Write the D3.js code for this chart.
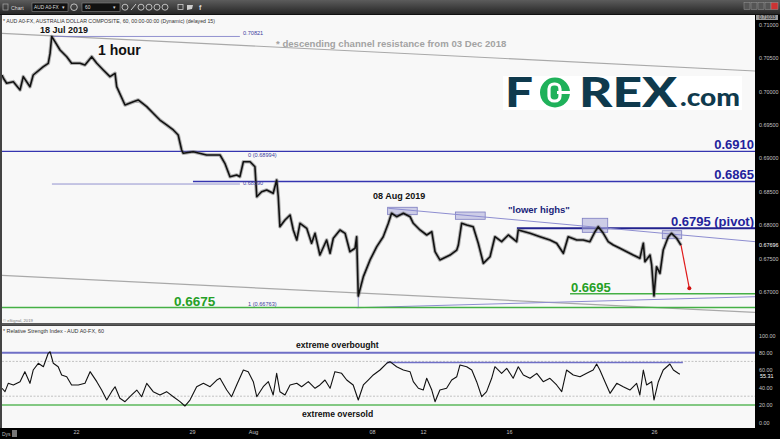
<!DOCTYPE html>
<html><head><meta charset="utf-8">
<script src="https://cdn.jsdelivr.net/npm/d3@7"></script>
<style>html,body{margin:0;padding:0;background:#222;overflow:hidden}svg{display:block}</style>
</head><body><svg id="c" width="780" height="439"></svg>
<script>
// ---------- DATA (trading days from 22 Jul 2019 00:00) ----------
const priceT = [-3.20,-3.14,-3.00,-2.71,-2.42,-2.28,-1.99,-1.85,-1.41,-1.20,
 -1.12,-1.05,-0.91,-0.69,-0.40,-0.19,0.17,0.39,0.68,0.90,
 1.18,1.47,1.69,1.76,2.12,2.48,2.69,3.06,3.34,3.63,
 3.92,4.21,4.42,4.57,4.64,5.07,5.65,6.23,6.44,6.66,
 6.95,7.09,7.24,7.53,7.74,7.82,8.03,8.25,8.53,8.68,
 8.75,8.82,9.04,9.26,9.40,9.55,9.69,9.98,10.19,10.34,
 10.55,10.84,10.99,11.13,11.42,11.64,11.85,12.07,12.14,12.21,
 12.43,12.72,13.01,13.29,13.51,13.65,13.87,14.16,14.45,14.59,
 14.88,15.17,15.39,15.53,15.74,16.18,16.47,16.54,16.68,16.90,
 17.18,17.40,17.62,17.91,18.12,18.41,18.70,19.06,19.13,19.64,
 20.07,20.50,20.79,21.08,21.29,21.66,21.94,22.23,22.45,22.59,
 22.81,23.02,23.24,23.53,23.82,24.10,24.39,24.54,24.61,24.83,
 24.90,25.00,25.11,25.26,25.40,25.62,25.76,25.98,26.17];
const priceV = [0.70244,0.70195,0.70120,0.70144,0.70020,0.70219,0.70069,0.70244,0.70368,0.70419,
 0.70569,0.70821,0.70743,0.70618,0.70518,0.70419,0.70419,0.70394,0.70518,0.70419,
 0.70319,0.70219,0.70269,0.70069,0.69795,0.69844,0.69870,0.69770,0.69671,0.69570,
 0.69496,0.69421,0.69346,0.69121,0.69072,0.69096,0.69046,0.69046,0.68922,0.68722,
 0.68747,0.68722,0.68946,0.68946,0.68871,0.68422,0.68497,0.68522,0.68473,0.68672,
 0.68422,0.67973,0.68073,0.68148,0.67924,0.67774,0.68024,0.67949,0.67725,0.67874,
 0.67549,0.67774,0.67575,0.67800,0.67924,0.67874,0.67599,0.67650,0.67823,0.66936,
 0.67225,0.67475,0.67674,0.67823,0.68024,0.68174,0.68123,0.68174,0.68123,0.68024,
 0.67924,0.67849,0.67898,0.67599,0.67475,0.67549,0.67624,0.67699,0.68024,0.67999,
 0.67973,0.67725,0.67425,0.67524,0.67823,0.67749,0.67849,0.67749,0.67924,0.67874,
 0.67823,0.67774,0.67725,0.67575,0.67823,0.67774,0.67774,0.67749,0.67898,0.67973,
 0.67874,0.67749,0.67699,0.67650,0.67599,0.67549,0.67500,0.67725,0.67449,0.67549,
 0.67400,0.66936,0.67374,0.67275,0.67624,0.67823,0.67874,0.67800,0.67696];
const rsiT = [-3.20,-3.07,-2.93,-2.71,-2.42,-2.21,-1.99,-1.85,-1.63,-1.41,
 -1.20,-1.12,-0.98,-0.77,-0.62,-0.40,-0.19,0.10,0.39,0.61,
 0.90,1.11,1.33,1.54,1.69,1.90,2.12,2.41,2.63,2.84,
 3.06,3.34,3.63,3.92,4.21,4.50,4.71,4.93,5.22,5.51,
 5.80,6.09,6.23,6.52,6.73,6.95,7.24,7.45,7.67,7.82,
 8.10,8.32,8.53,8.68,8.82,9.04,9.26,9.55,9.76,10.05,
 10.34,10.55,10.77,10.99,11.20,11.49,11.71,11.99,12.21,12.43,
 12.64,12.86,13.15,13.44,13.58,13.87,14.16,14.45,14.59,14.81,
 15.02,15.17,15.39,15.53,15.74,16.03,16.25,16.47,16.61,16.90,
 17.12,17.33,17.55,17.76,17.98,18.12,18.41,18.63,18.91,19.13,
 19.35,19.64,19.93,20.21,20.50,20.79,21.01,21.22,21.51,21.80,
 22.09,22.37,22.52,22.66,22.88,23.10,23.39,23.67,23.96,24.25,
 24.39,24.54,24.68,24.90,25.00,25.19,25.40,25.69,25.84,26.05,26.12];
const rsiV = [39.1,35.2,44.8,42.9,46.7,58.2,44.8,60.1,67.8,63.9,
 79.3,81.1,67.8,63.9,54.4,52.4,42.9,42.9,44.8,58.2,
 46.7,37.1,25.6,35.2,40.9,27.6,23.7,31.4,37.1,29.4,
 44.8,35.2,31.4,35.2,29.4,23.7,18.7,25.6,40.9,44.8,
 40.9,48.6,50.6,37.1,29.4,42.9,60.1,58.2,46.7,29.4,
 40.9,46.7,31.4,56.3,35.2,31.4,42.9,44.8,40.9,46.7,
 39.1,42.9,48.6,39.1,58.2,56.3,48.6,42.9,25.6,42.9,
 48.6,54.4,60.1,67.8,69.7,63.9,60.1,58.2,46.7,39.1,
 37.1,50.6,37.1,23.7,37.1,39.1,48.6,52.4,65.9,63.9,
 60.1,46.7,29.4,35.2,50.6,63.9,56.3,62.1,50.6,63.9,
 54.4,50.6,56.3,46.7,50.6,42.9,35.2,60.1,54.4,52.4,
 56.3,60.1,67.0,60.1,46.7,33.3,44.8,40.9,37.1,44.8,
 31.4,60.1,42.9,46.7,25.6,46.7,60.1,67.0,60.1,56.3,55.31];

const priceTicks = [0.71,0.705,0.70,0.695,0.69,0.685,0.68,0.675,0.67];
const rsiTicks = [100,80,60,40,20,0];
const dayTicks = [0,5.02,7.66,12.80,15.01,18.73,25.00];
const dayLabels = ["22","29","Aug","08","12","16","26"];

const levelValues = [0.6910,0.6865,0.6795];
const levelLabels = ["0.6910","0.6865","0.6795 (pivot)"];
const levelStart = [-3.2,5.06,19.07];
const supportValues = [0.6697,0.66763];
const supportLabels = ["0.6695","0.6675"];
const supportStart = [21.37,-3.2];
// boxes on swing highs: [day0, day1, priceHigh, priceLow]
const boxD0 = [13.48,16.41,21.90,25.36];
const boxD1 = [14.76,17.70,23.00,26.20];
const boxP0 = [0.68264,0.68193,0.68099,0.67913];
const boxP1 = [0.68153,0.68084,0.67889,0.67793];
// trendlines [d0,p0,d1,p1]
const lowerHighs = [13.51,0.68249,29.37,0.67749];
const chanTop = [-3.29,0.70868,29.37,0.70304];
const chanBot = [-3.29,0.67246,29.37,0.66689];
const riseLine = [12.14,0.66760,29.37,0.66925];
const fibHigh = 0.70821, fibMid = 0.68612, fib0 = 0.68994, fib1 = 0.66763;
const fibSpan = [-1.04,7.09];
const arrow = [26.17,0.67696,26.53,0.67051];
const rsiRef = [80,70,30,20];
const rsiRes = [13.44,26.25,68.7];
const lastPrice = 0.67696, lastRsi = 55.31;

// ---------- LAYOUT ----------
const svg = d3.select("#c");
const FF = "Liberation Sans, Arial, sans-serif";
const L=2, R=755, mT=15, mB=324, rT=326, rB=428;
const x = d3.scaleLinear().domain([-3.2, 29.37]).range([L, R]);
const yP = d3.scaleLinear().domain([0.67, 0.71]).range([291.7, 24.5]);
const yR = d3.scaleLinear().domain([0, 100]).range([422.3, 335.3]);

const defs = svg.append("defs");
const g1 = defs.append("linearGradient").attr("id","tb").attr("x1",0).attr("x2",0).attr("y1",0).attr("y2",1);
g1.append("stop").attr("offset","0").attr("stop-color","#5c5c5c");
g1.append("stop").attr("offset","1").attr("stop-color","#262626");
defs.append("clipPath").attr("id","cm").append("rect").attr("x",L).attr("y",mT).attr("width",R-L).attr("height",mB-mT);
defs.append("clipPath").attr("id","cr").append("rect").attr("x",L).attr("y",rT).attr("width",R-L).attr("height",rB-rT);

svg.append("rect").attr("width",780).attr("height",439).attr("fill","#2b2b2b");
// toolbar
svg.append("rect").attr("width",780).attr("height",14).attr("fill","url(#tb)");
svg.append("rect").attr("y",14).attr("width",780).attr("height",1).attr("fill","#111");
const tb = svg.append("g").attr("font-family",FF).attr("font-size",5.2).attr("fill","#ddd");
tb.append("rect").attr("x",3).attr("y",4).attr("width",5).attr("height",6).attr("fill","none").attr("stroke","#aaa").attr("stroke-width",0.7);
tb.append("text").attr("x",11).attr("y",9.5).text("Chart");
tb.append("rect").attr("x",32).attr("y",3).attr("width",36).attr("height",8.5).attr("fill","#111").attr("stroke","#888").attr("stroke-width",0.6);
tb.append("text").attr("x",34).attr("y",9.3).attr("font-size",4.8).text("AUD A0-FX");
tb.append("text").attr("x",62).attr("y",9.3).attr("font-size",4.8).text("▾");
tb.append("circle").attr("cx",74).attr("cy",7.2).attr("r",3.3).attr("fill","none").attr("stroke","#ccc").attr("stroke-width",0.9);
tb.append("rect").attr("x",82).attr("y",3).attr("width",38).attr("height",8.5).attr("fill","#111").attr("stroke","#888").attr("stroke-width",0.6);
tb.append("text").attr("x",85).attr("y",9.3).attr("font-size",4.8).text("60");
tb.append("text").attr("x",113).attr("y",9.3).attr("font-size",4.8).text("▾");
[125,141,149,157,165].forEach(cx=>tb.append("circle").attr("cx",cx).attr("cy",7.2).attr("r",3).attr("fill","none").attr("stroke","#ccc").attr("stroke-width",0.9));
tb.append("line").attr("x1",131).attr("y1",10).attr("x2",136).attr("y2",4).attr("stroke","#ccc").attr("stroke-width",1);
tb.append("rect").attr("x",178).attr("y",4.5).attr("width",5).attr("height",5).attr("fill","none").attr("stroke","#ccc").attr("stroke-width",0.8);
tb.append("path").attr("d","M187,5 l6,0 l-1,4 l-5,1 z").attr("fill","#ccc");
tb.append("text").attr("x",199).attr("y",10).attr("font-size",7).attr("font-weight","bold").text("f");
[744,751,758,765].forEach(bx=>tb.append("rect").attr("x",bx).attr("y",2.5).attr("width",6).attr("height",7).attr("fill","#555").attr("stroke","#999").attr("stroke-width",0.5));
tb.append("rect").attr("x",771).attr("y",2.5).attr("width",7).attr("height",7).attr("fill","#c33").attr("stroke","#999").attr("stroke-width",0.5);

// panels
svg.append("rect").attr("x",L).attr("y",mT).attr("width",R-L).attr("height",mB-mT).attr("fill","#f8f8f8");
svg.append("rect").attr("x",0).attr("y",mB-1).attr("width",R).attr("height",2.5).attr("fill","#5a5a5a");
svg.append("rect").attr("x",L).attr("y",rT).attr("width",R-L).attr("height",rB-rT).attr("fill","#f8f8f8");
svg.append("rect").attr("x",R).attr("y",mT).attr("width",780-R).attr("height",439-mT).attr("fill","#000");
svg.append("rect").attr("x",0).attr("y",rB).attr("width",780).attr("height",439-rB).attr("fill","#000");
svg.append("rect").attr("x",0).attr("y",mT).attr("width",L).attr("height",rB-mT).attr("fill","#444");

// ---------- MAIN PANEL ----------
const M = svg.append("g").attr("clip-path","url(#cm)");
const seg = (a,col,w)=>M.append("line").attr("x1",x(a[0])).attr("y1",yP(a[1])).attr("x2",x(a[2])).attr("y2",yP(a[3])).attr("stroke",col).attr("stroke-width",w);
seg(chanTop,"#a9a9a9",1.2);
seg(chanBot,"#a9a9a9",1.2);
seg(riseLine,"#8d8dd0",1);
// fib lines
M.append("line").attr("x1",x(fibSpan[0])).attr("x2",x(fibSpan[1])).attr("y1",yP(fibHigh)).attr("y2",yP(fibHigh)).attr("stroke","#7777c4").attr("stroke-width",0.8);
M.append("line").attr("x1",x(fibSpan[0])).attr("x2",x(fibSpan[1])).attr("y1",yP(fibMid)).attr("y2",yP(fibMid)).attr("stroke","#7777c4").attr("stroke-width",0.8);
M.append("line").attr("x1",x(12.21)).attr("x2",x(12.21)).attr("y1",yP(0.66936)).attr("y2",yP(fib1)).attr("stroke","#8d8dd0").attr("stroke-width",0.8);
// levels
levelValues.forEach((v,i)=>{
  M.append("line").attr("x1",x(levelStart[i])).attr("x2",R).attr("y1",yP(v)).attr("y2",yP(v))
   .attr("stroke",i===2?"#22228e":"#3535b0").attr("stroke-width",i===2?2:1.3);
});
supportValues.forEach((v,i)=>{
  M.append("line").attr("x1",x(supportStart[i])).attr("x2",R).attr("y1",yP(v)).attr("y2",yP(v))
   .attr("stroke","#45b045").attr("stroke-width",1.4);
});
// boxes
boxD0.forEach((d,i)=>{
  M.append("rect").attr("x",x(d)).attr("y",yP(boxP0[i])).attr("width",x(boxD1[i])-x(d)).attr("height",yP(boxP1[i])-yP(boxP0[i]))
   .attr("fill","#a9a9d8").attr("fill-opacity",0.55).attr("stroke","#7c7cc0").attr("stroke-width",0.8);
});
seg(lowerHighs,"#8d8dd0",1);
// price
const pts = priceT.map((t,i)=>[t,priceV[i]]);
const ln = d3.line().x(d=>x(d[0])).y(d=>yP(d[1]));
M.append("path").attr("d",ln(pts)).attr("fill","none").attr("stroke","#666").attr("stroke-width",3.6).attr("stroke-opacity",0.5).attr("stroke-linejoin","round");
M.append("path").attr("d",ln(pts)).attr("fill","none").attr("stroke","#111").attr("stroke-width",1.6).attr("stroke-linejoin","round");
// arrow
M.append("line").attr("x1",x(arrow[0])).attr("y1",yP(arrow[1])).attr("x2",x(arrow[2])).attr("y2",yP(arrow[3])).attr("stroke","#e01b1b").attr("stroke-width",1.2);
M.append("circle").attr("cx",x(arrow[2])).attr("cy",yP(arrow[3])).attr("r",2).attr("fill","#d01010");

// logo
const lg = M.append("g");
lg.append("rect").attr("x",503).attr("y",76).attr("width",239).attr("height",34).attr("fill","#fff");
lg.append("text").attr("x",505).attr("y",107).attr("font-family","Lato, Roboto, sans-serif").attr("font-weight",900).attr("font-size",41).attr("fill","#0f3a4d").attr("textLength",28).attr("lengthAdjust","spacingAndGlyphs").text("F");
lg.append("circle").attr("cx",555).attr("cy",92.5).attr("r",15).attr("fill","#1fb15a");
lg.append("rect").attr("x",549).attr("y",84).attr("width",11).attr("height",17).attr("rx",5).attr("fill","none").attr("stroke","#fff").attr("stroke-width",3.2);
lg.append("line").attr("x1",557).attr("x2",571).attr("y1",92.5).attr("y2",92.5).attr("stroke","#fff").attr("stroke-width",3);
lg.append("text").attr("x",579).attr("y",107).attr("font-family","Lato, Roboto, sans-serif").attr("font-weight",900).attr("font-size",41).attr("fill","#0f3a4d").attr("textLength",98).attr("lengthAdjust","spacingAndGlyphs").text("REX");
lg.append("text").attr("x",680).attr("y",106).attr("font-family","Lato, Roboto, sans-serif").attr("font-weight",900).attr("font-size",24).attr("fill","#0f3a4d").attr("textLength",60).attr("lengthAdjust","spacingAndGlyphs").text(".com");

// texts in main panel
const T = svg.append("g").attr("font-family",FF);
T.append("text").attr("x",3).attr("y",22.5).attr("font-size",5.4).attr("fill","#333").attr("textLength",212).attr("lengthAdjust","spacingAndGlyphs")
 .text("* AUD A0-FX, AUSTRALIA DOLLAR COMPOSITE, 60, 00:00-00:00 (Dynamic) (delayed 15)");
T.append("text").attr("x",40).attr("y",32.5).attr("font-size",9).attr("font-weight","bold").attr("fill","#111").text("18 Jul 2019");
T.append("text").attr("x",98).attr("y",54.5).attr("font-size",14).attr("font-weight","bold").attr("fill","#111").text("1 hour");
T.append("text").attr("x",276).attr("y",46.5).attr("font-size",9.6).attr("font-weight","bold").attr("fill","#a3a3a3").text("* descending channel resistance from 03 Dec 2018");
T.append("text").attr("x",243).attr("y",yP(fibHigh)-1.5).attr("font-size",5.6).attr("fill","#3d3d9e").text(d3.format(".5f")(fibHigh));
T.append("text").attr("x",248).attr("y",156.5).attr("font-size",5.6).attr("fill","#3d3d9e").text("0 ("+d3.format(".5f")(fib0)+")");
T.append("text").attr("x",243).attr("y",yP(fibMid)+0.5).attr("font-size",5.6).attr("fill","#3d3d9e").text("0.68590");
T.append("text").attr("x",248).attr("y",yP(fib1)-2).attr("font-size",5.6).attr("fill","#3d3d9e").text("1 ("+d3.format(".5f")(fib1)+")");
levelValues.forEach((v,i)=>{
  T.append("text").attr("x",754).attr("y",yP(v)-2).attr("text-anchor","end").attr("font-size",13).attr("font-weight","bold").attr("fill","#23239c").text(levelLabels[i]);
});
T.append("text").attr("x",571).attr("y",yP(supportValues[0])-1.5).attr("font-size",13).attr("font-weight","bold").attr("fill","#26a026").text(supportLabels[0]);
T.append("text").attr("x",174).attr("y",yP(supportValues[1])-1.5).attr("font-size",13.5).attr("font-weight","bold").attr("fill","#26a026").text(supportLabels[1]);
T.append("text").attr("x",373).attr("y",199).attr("font-size",9).attr("font-weight","bold").attr("fill","#111").text("08 Aug 2019");
T.append("text").attr("x",508).attr("y",213).attr("font-size",9.5).attr("font-weight","bold").attr("fill","#1a1f7a").text("\"lower highs\"");
T.append("text").attr("x",3).attr("y",322).attr("font-size",4.2).attr("fill","#777").text("© eSignal, 2019");

// ---------- RSI PANEL ----------
const Rg = svg.append("g").attr("clip-path","url(#cr)");
rsiRef.forEach(v=>{
  const l = Rg.append("line").attr("x1",L).attr("x2",R).attr("y1",yR(v)).attr("y2",yR(v));
  if (v===80) l.attr("stroke","#6f6fc6").attr("stroke-width",2);
  else if (v===20) l.attr("stroke","#5cb85c").attr("stroke-width",1.5);
  else l.attr("stroke","#aaa").attr("stroke-width",0.7).attr("stroke-dasharray","2,1.5");
});
Rg.append("line").attr("x1",x(rsiRes[0])).attr("x2",x(rsiRes[1])).attr("y1",yR(rsiRes[2])).attr("y2",yR(rsiRes[2])).attr("stroke","#6f6fc6").attr("stroke-width",1.5);
const rl = d3.line().x((d,i)=>x(rsiT[i])).y(d=>yR(d));
Rg.append("path").attr("d",rl(rsiV)).attr("fill","none").attr("stroke","#111").attr("stroke-width",1.1).attr("stroke-linejoin","round");
T.append("text").attr("x",3).attr("y",333).attr("font-size",5.4).attr("fill","#333").text("* Relative Strength Index - AUD A0-FX, 60");
T.append("text").attr("x",296).attr("y",348.3).attr("font-size",8.6).attr("font-weight","bold").attr("fill","#111").text("extreme overbought");
T.append("text").attr("x",302).attr("y",416.5).attr("font-size",8.6).attr("font-weight","bold").attr("fill","#111").text("extreme oversold");

// ---------- AXES ----------
const axP = svg.append("g").attr("transform",`translate(${R},0)`)
  .call(d3.axisRight(yP).tickValues(priceTicks).tickSize(0).tickPadding(4).tickFormat(d3.format(".5f")));
const axR = svg.append("g").attr("transform",`translate(${R},0)`)
  .call(d3.axisRight(yR).tickValues(rsiTicks).tickSize(0).tickPadding(4).tickFormat(d3.format(".2f")));
const axX = svg.append("g").attr("transform",`translate(0,${rB})`)
  .call(d3.axisBottom(x).tickValues(dayTicks).tickSize(0).tickPadding(2.5).tickFormat((d,i)=>dayLabels[i]));
[axP,axR,axX].forEach(a=>{
  a.select(".domain").remove();
  a.selectAll("text").attr("font-family",FF).attr("font-size",5.4).attr("fill","#c4c4c4");
});
// current value labels
svg.append("text").attr("x",759).attr("y",yP(lastPrice)+2).attr("font-family",FF).attr("font-size",5.4).attr("fill","#fff").text(d3.format(".5f")(lastPrice));
svg.append("text").attr("x",760).attr("y",yR(lastRsi)+4).attr("font-family",FF).attr("font-size",5.4).attr("fill","#fff").text(d3.format(".2f")(lastRsi));
svg.append("rect").attr("x",756).attr("y",15).attr("width",22).attr("height",5).attr("fill","#9a9a9a");
svg.append("text").attr("x",759).attr("y",19.3).attr("font-family",FF).attr("font-size",4.6).attr("fill","#111").text("0.71033");
svg.append("text").attr("x",2).attr("y",436).attr("font-family",FF).attr("font-size",5).attr("fill","#bbb").text("Dys");
svg.append("rect").attr("x",12).attr("y",430).attr("width",5).attr("height",7).attr("fill","#777");
</script></body></html>
